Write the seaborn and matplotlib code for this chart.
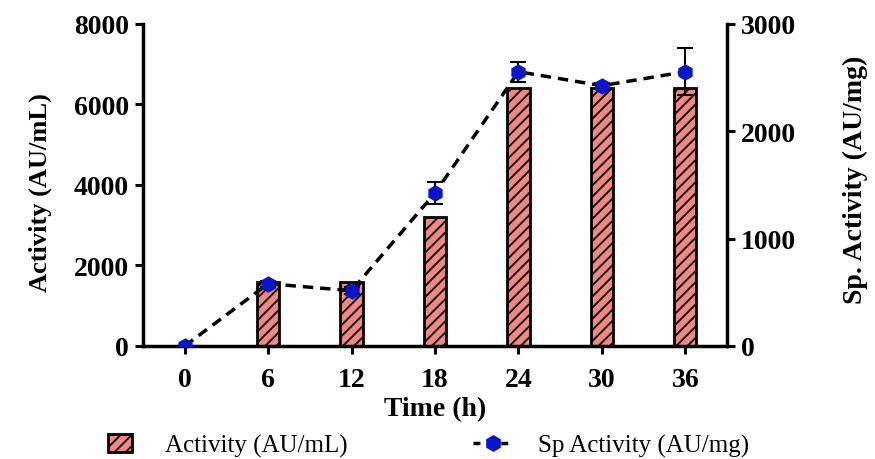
import matplotlib
matplotlib.use("Agg")
import matplotlib.pyplot as plt
import seaborn as sns
import pandas as pd
from matplotlib.patches import Patch, Rectangle
from matplotlib.lines import Line2D
from matplotlib.legend_handler import HandlerPatch

# ---- data ----
time_h = [0, 6, 12, 18, 24, 30, 36]
activity = [0, 1600, 1600, 3200, 6400, 6400, 6400]          # AU/mL
sp_activity = [0, 580, 515, 1425, 2555, 2425, 2555]        # AU/mg
sp_err = [0, 30, 30, 100, 95, 25, 220]
x_ticks = [0, 6, 12, 18, 24, 30, 36]
y_left_ticks = [0, 2000, 4000, 6000, 8000]
y_right_ticks = [0, 1000, 2000, 3000]

sns.set_theme(style="ticks")
plt.rcParams['font.family'] = ['Liberation Serif', 'DejaVu Serif']
plt.rcParams['hatch.linewidth'] = 1.3
plt.rcParams['hatch.color'] = 'black'
for k in ['text.color', 'axes.labelcolor', 'xtick.color', 'ytick.color', 'axes.edgecolor']:
    plt.rcParams[k] = 'black'

df = pd.DataFrame({"Time": time_h, "Activity": activity, "Sp": sp_activity})

fig = plt.figure(figsize=(8.75, 4.6), dpi=100)
ax = fig.add_axes([0.1634, 0.2457, 0.8309 - 0.1634, 0.9457 - 0.2457])

bar_color = "#EE8880"
marker_color = "#0A14C8"
sns.barplot(data=df, x="Time", y="Activity", native_scale=True, width=1.6 / 6,
            color=bar_color, edgecolor="black", linewidth=2, saturation=1,
            hatch="///", ax=ax, zorder=2)

ax2 = ax.twinx()
sns.lineplot(data=df, x="Time", y="Sp", ax=ax2, color="black", lw=2.5,
             linestyle=(0, (3, 2)), marker="h", markersize=11,
             markerfacecolor=marker_color, markeredgecolor=marker_color, zorder=3)
ax2.errorbar(time_h, sp_activity, yerr=sp_err, fmt="none", ecolor="black",
             elinewidth=1.5, capsize=6, capthick=1.5, zorder=2)

ax.set_xlim(-3, 39)
ax.set_ylim(0, 8000)
ax2.set_ylim(0, 3000)
ax.set_xticks(x_ticks)
ax.set_xticklabels([str(t) for t in x_ticks])
ax.set_yticks(y_left_ticks)
ax2.set_yticks(y_right_ticks)

for a in (ax, ax2):
    for s in a.spines.values():
        s.set_linewidth(2.5)
        s.set_color("black")
    a.spines["top"].set_visible(False)
    a.tick_params(width=2.2, length=6, labelsize=20, color="black", pad=4)
    for lab in a.get_xticklabels() + a.get_yticklabels():
        lab.set_fontweight("bold")
ax.tick_params(axis="x", pad=9)
ax.spines["right"].set_visible(False)
ax2.spines["left"].set_visible(False)
ax2.spines["bottom"].set_visible(False)

ax.set_xlabel("Time (h)", fontsize=20, fontweight="bold")
ax.xaxis.set_label_coords(0.5, -0.155)
ax.set_ylabel("Activity (AU/mL)", fontsize=19, fontweight="bold")
ax.yaxis.set_label_coords(-0.156, 0.48)
ax2.set_ylabel("Sp. Activity (AU/mg)", fontsize=20, fontweight="bold")
ax2.yaxis.set_label_coords(1.199, 0.52)
ax.grid(False)
ax2.grid(False)


def square_patch(legend, orig_handle, xdescent, ydescent, width, height, fontsize):
    w = height * 1.35
    return Rectangle((-xdescent + (width - w) / 2, -ydescent), w, height)


handles = [
    Patch(facecolor=bar_color, edgecolor="black", hatch="///", linewidth=2),
    Line2D([0], [0], color="black", lw=2.5, linestyle=(0, (2, 2)), marker="h",
           markersize=11, markerfacecolor=marker_color, markeredgecolor=marker_color),
]
fig.legend(handles, ["Activity (AU/mL)", "Sp Activity (AU/mg)"], loc="center left",
           bbox_to_anchor=(0.1143, 0.03), ncol=2, frameon=False, fontsize=18,
           borderpad=0, borderaxespad=0,
           handlelength=1.6, handleheight=0.72, columnspacing=5.0, handletextpad=1.0,
           handler_map={Patch: HandlerPatch(patch_func=square_patch)})

fig.savefig("out.png", dpi=100)
